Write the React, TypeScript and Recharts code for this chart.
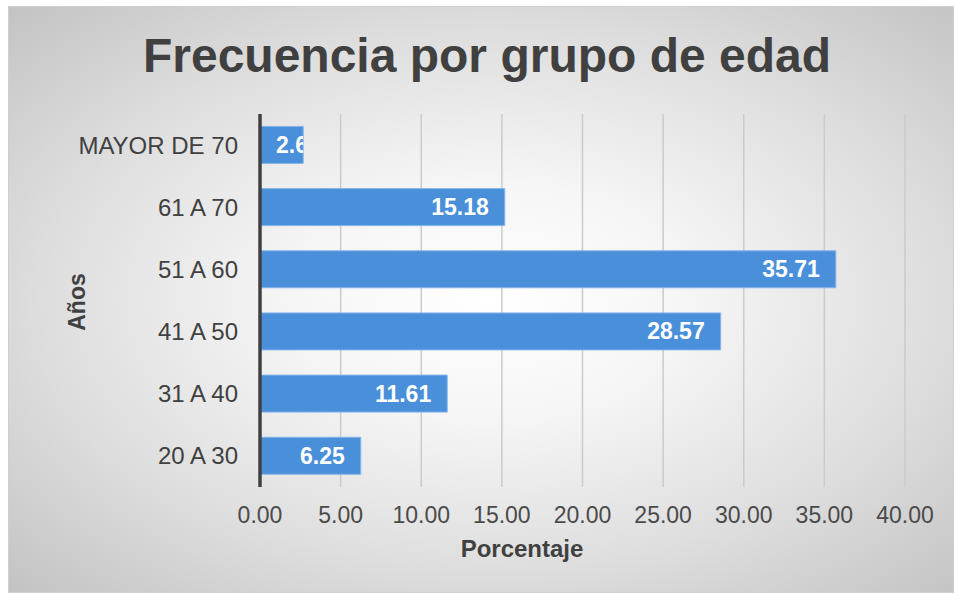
import { BarChart, Bar, XAxis, YAxis, CartesianGrid, LabelList } from "recharts";

const categories = ["MAYOR DE 70", "61 A 70", "51 A 60", "41 A 50", "31 A 40", "20 A 30"];
const values = [2.68, 15.18, 35.71, 28.57, 11.61, 6.25];
const xTicks = [0, 5, 10, 15, 20, 25, 30, 35, 40];

const FONT = "'Liberation Sans', Arial, sans-serif";
const INK = "#404040";
const BAR = "#4a8fd9";
const BAR_EDGE = "#86b5ea";
const GRID = "#cbcbcb";

const W = 946;
const H = 587;

// label drawn inside the bar end, clipped to the bar like the original
function BarValue(props: any) {
  const { x, y, width, height, value, index } = props;
  const id = `clip-bar-${index}`;
  const fits = width > 80; // short bars: text starts near the axis and gets cut off
  return (
    <g>
      <defs>
        <clipPath id={id}>
          <rect x={x} y={y} width={width} height={height} />
        </clipPath>
      </defs>
      <text
        x={fits ? x + width - 16 : x + 16}
        y={y + height / 2}
        textAnchor={fits ? "end" : "start"}
        dominantBaseline="central"
        fill="#ffffff"
        fontSize={23}
        fontWeight="bold"
        fontFamily={FONT}
        clipPath={`url(#${id})`}
      >
        {Number(value).toFixed(2)}
      </text>
    </g>
  );
}

export default function App() {
  const data = categories.map((c, i) => ({ name: c, value: values[i] }));

  return (
    <div
      style={{
        position: "absolute",
        left: 8,
        top: 6,
        width: W,
        height: H,
        boxSizing: "border-box",
        border: "1px solid #cfcfcf",
        background:
          "radial-gradient(ellipse farthest-corner at 51% 50%, #ffffff 0%, #f6f6f6 28%, #dedede 65%, #c3c3c3 100%)",
        fontFamily: FONT,
      }}
    >
      <BarChart
        width={W - 2}
        height={H - 2}
        data={data}
        layout="vertical"
        barCategoryGap="20%"
        margin={{ top: 107, right: 48, bottom: 0, left: 0 }}
      >
        <text x={478} y={65} textAnchor="middle" fontFamily={FONT} fontSize={48} fontWeight="bold" fill={INK}>
          Frecuencia por grupo de edad
        </text>
        <CartesianGrid horizontal={false} stroke={GRID} strokeWidth={1.5} />
        <XAxis
          type="number"
          domain={[0, 40]}
          ticks={xTicks}
          tickFormatter={(v: number) => v.toFixed(2)}
          axisLine={false}
          tickLine={false}
          tickMargin={14}
          tick={{ fill: "#4a4a4a", fontSize: 23, fontFamily: FONT }}
          height={105}
          label={{
            content: () => (
              <text x={513} y={550} textAnchor="middle" fontFamily={FONT} fontSize={24} fontWeight="bold" fill={INK}>
                Porcentaje
              </text>
            ),
          }}
        />
        <YAxis
          type="category"
          dataKey="name"
          width={251}
          axisLine={{ stroke: INK, strokeWidth: 3.5 }}
          tickLine={false}
          tickMargin={16}
          tick={{ fill: INK, fontSize: 24, fontFamily: FONT }}
          label={{
            content: () => (
              <text
                x={68}
                y={295}
                textAnchor="middle"
                dominantBaseline="central"
                transform="rotate(-90, 68, 295)"
                fontFamily={FONT}
                fontSize={23}
                fontWeight="bold"
                fill={INK}
              >
                Años
              </text>
            ),
          }}
        />
        <Bar dataKey="value" fill={BAR} stroke={BAR_EDGE} strokeWidth={1} isAnimationActive={false}>
          <LabelList dataKey="value" content={BarValue} />
        </Bar>
      </BarChart>
    </div>
  );
}
